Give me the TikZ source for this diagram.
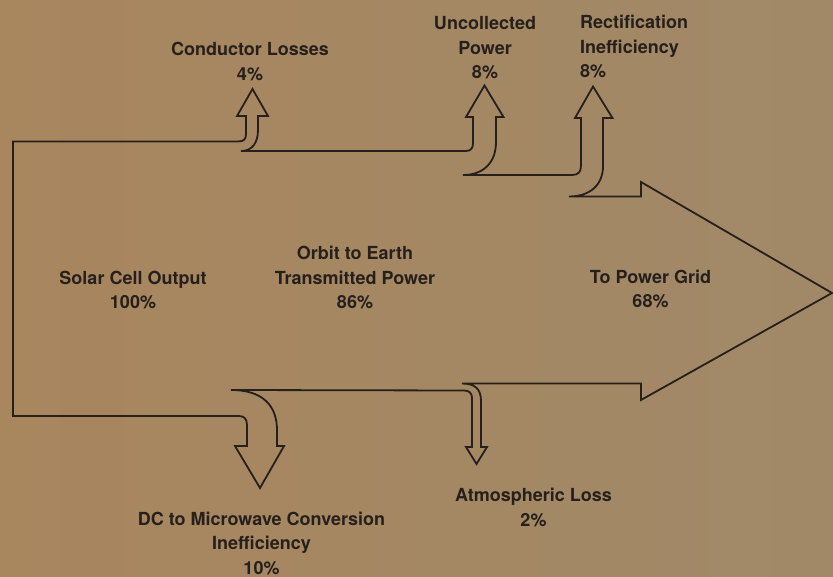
\documentclass[tikz,border=0pt]{standalone}
\usepackage{fontspec}
\setmainfont{TeX Gyre Heros}
\definecolor{paper}{RGB}{161,137,104}
\definecolor{paperleft}{RGB}{168,134,94}
\definecolor{ink}{RGB}{38,32,28}
\tikzset{
  flow/.style={draw=ink, line width=1.8pt, line join=miter},
  lbl/.style={text=ink, font=\bfseries\fontsize{18}{24.5}\selectfont, align=center, inner sep=0pt}
}

\begin{document}
\begin{tikzpicture}[x=1pt, y=-1pt]

% Background
\useasboundingbox (0,0) rectangle (833,577);
\shade[left color=paperleft, right color=paper] (0,0) rectangle (833,577);

% Power flow outline
\draw[flow]
  (13,416) -- (13,141.5) -- (238,141.5)
  .. controls (244,141.5) and (246,139) .. (246,134) -- (246,116) -- (237,116)
  -- (252.5,89) -- (268,116) -- (258,116) -- (258,130)
  .. controls (258,143) and (252,151) .. (241,151)
  -- (466,151) .. controls (471,151) and (473,148) .. (473,143) -- (473,117)
  -- (466,117) -- (484.5,85.5) -- (503.5,117) -- (496,117) -- (496,142)
  .. controls (496,162) and (484,175) .. (463,175)
  -- (572,175) .. controls (578,175) and (581,172) .. (581,166) -- (581,118)
  -- (575,118) -- (593,86.5) -- (612.5,118) -- (603,118) -- (603,166)
  .. controls (603,185) and (590,196.5) .. (569,196.5)
  -- (641,196.5) -- (641,182) -- (832,293) -- (641,400) -- (641,383.5)
  -- (462,383.5) .. controls (475,383.5) and (481,389) .. (481,401)
  -- (481,447) -- (487,447) -- (476.5,464) -- (466,447) -- (472,447)
  -- (472,398) .. controls (472,393) and (469,390.5) .. (464,390.5)
  -- (231,390) .. controls (262,390) and (277,405) .. (277,430)
  -- (277,446) -- (284,446) -- (260,488) -- (235,446) -- (247,446)
  -- (247,425) .. controls (247,419) and (244,416) .. (239,416) -- cycle;

% Losses
\node[lbl] (conductor) at (250,61.5) {Conductor Losses\\4\%};
\node[lbl] (uncollected) at (485,48) {Uncollected\\Power\\8\%};
\node[lbl, align=left, anchor=west] (rectify) at (580,46.5) {Rectification\\Inefficiency\\8\%};
\node[lbl] (dcmicro) at (261.5,543) {DC to Microwave Conversion\\Inefficiency\\10\%};
\node[lbl] (atmos) at (533.5,507.5) {Atmospheric Loss\\2\%};

% Main flow labels
\node[lbl] (solar) at (133,290) {Solar Cell Output\\100\%};
\node[lbl] (orbit) at (355,277.5) {Orbit to Earth\\Transmitted Power\\86\%};
\node[lbl] (grid) at (650.5,289) {To Power Grid\\68\%};

\end{tikzpicture}
\end{document}
